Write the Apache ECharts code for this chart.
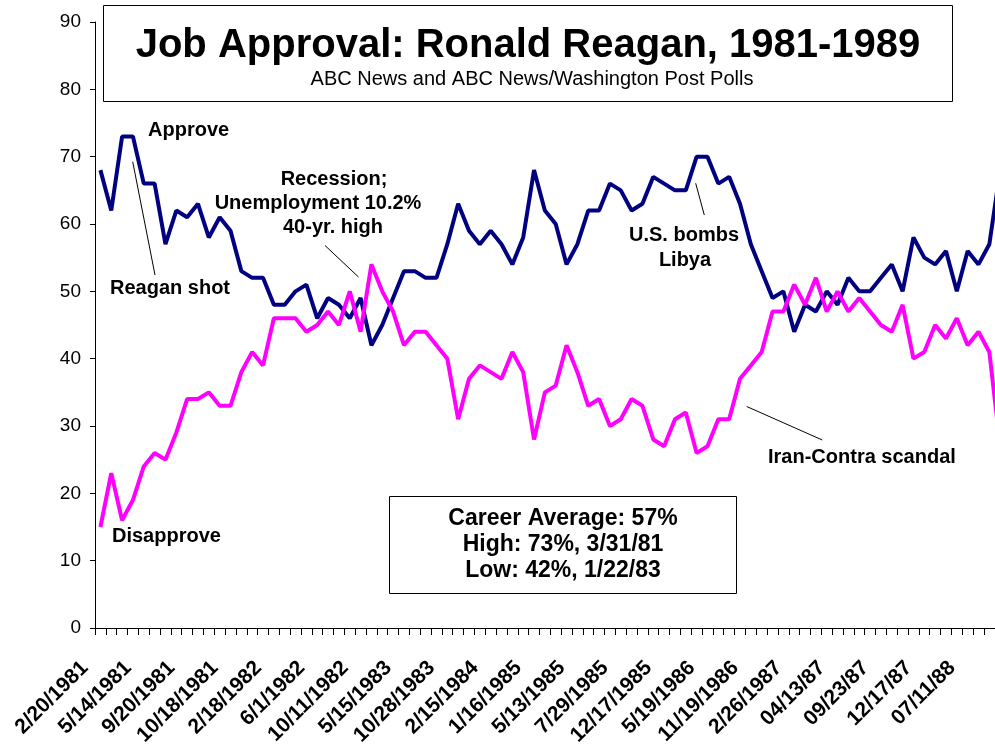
<!DOCTYPE html>
<html>
<head>
<meta charset="utf-8">
<script src="https://cdn.jsdelivr.net/npm/echarts@6/dist/echarts.min.js"></script>
<style>
html,body{margin:0;padding:0;background:#fff;}
#chart{width:995px;height:755px;}
</style>
</head>
<body>
<div id="chart"></div>
<script>
// Tick labels shown on the category axis (every 4th poll)
const tickLabels = ['2/20/1981','5/14/1981','9/20/1981','10/18/1981','2/18/1982','6/1/1982','10/11/1982','5/15/1983','10/28/1983','2/15/1984','1/16/1985','5/13/1985','7/29/1985','12/17/1985','5/19/1986','11/19/1986','2/26/1987','04/13/87','09/23/87','12/17/87','07/11/88'];

// Poll values (percent), one per poll, in chronological order
const approve = [68,62,73,73,66,66,57,62,61,63,58,61,59,53,52,52,48,48,50,51,46,
                 49,48,46,49,42,45,49,53,53,52,52,57,63,59,57,59,57,54,58,68,62,
                 60,54,57,62,62,66,65,62,63,67,66,65,65,70,70,66,67,63,57,53,49,
                 50,44,48,47,50,48,52,50,50,52,54,50,58,55,54,56,50,56,54,57,68];
const disapprove = [15,23,16,19,24,26,25,29,34,34,35,33,33,38,41,39,46,46,46,44,45,
                    47,45,50,44,54,50,47,42,44,44,42,40,31,37,39,38,37,41,38,28,35,
                    36,42,38,33,34,30,31,34,33,28,27,31,32,26,27,31,31,37,39,41,47,
                    47,51,48,52,47,50,47,49,47,45,44,48,40,41,45,43,46,42,44,41,27];

const categories = approve.map((_, i) => (i % 4 === 0 && tickLabels[i / 4]) ? tickLabels[i / 4] : '');

const FONT = '"Liberation Sans", Arial, Helvetica, sans-serif';

const chart = echarts.init(document.getElementById('chart'), null, {renderer: 'canvas'});

function txt(text, x, y, size, align, weight) {
  return {
    type: 'text', z: 100,
    style: {
      text: text, x: x, y: y, fill: '#000',
      font: (weight || 'bold') + ' ' + size + 'px ' + FONT,
      textAlign: align || 'left', textVerticalAlign: 'middle'
    }
  };
}
function seg(x1, y1, x2, y2) {
  return {type: 'line', z: 100, shape: {x1: x1, y1: y1, x2: x2, y2: y2}, style: {stroke: '#000', lineWidth: 1}};
}

chart.setOption({
  animation: false,
  backgroundColor: '#fff',
  grid: {left: 95, top: 22, width: 910.6, height: 606, containLabel: false, outerBoundsMode: 'none'},
  xAxis: {
    type: 'category',
    data: categories,
    boundaryGap: true,
    axisLine: {show: true, lineStyle: {color: '#000', width: 1}},
    axisTick: {show: true, interval: 0, length: 7, lineStyle: {color: '#000'}},
    axisLabel: {
      interval: 3, rotate: 45, margin: 21,
      color: '#000', fontFamily: FONT, fontWeight: 'bold', fontSize: 21,
      padding: [0, 22, 0, 0]
    },
    splitLine: {show: false}
  },
  yAxis: {
    type: 'value', min: 0, max: 90, interval: 10,
    axisLine: {show: true, lineStyle: {color: '#000', width: 1}},
    axisTick: {show: true, length: 5, lineStyle: {color: '#000'}},
    axisLabel: {color: '#000', fontFamily: FONT, fontSize: 19, margin: 14},
    splitLine: {show: false}
  },
  series: [
    {name: 'Approve', type: 'line', data: approve, symbol: 'none', clip: true,
     lineStyle: {color: '#000080', width: 4}, itemStyle: {color: '#000080'}},
    {name: 'Disapprove', type: 'line', data: disapprove, symbol: 'none', clip: true,
     lineStyle: {color: '#FF00FF', width: 4}, itemStyle: {color: '#FF00FF'}}
  ],
  graphic: [
    {type: 'rect', z: 90, shape: {x: 103.5, y: 5.5, width: 849, height: 96},
     style: {fill: '#fff', stroke: '#000', lineWidth: 1}},
    txt('Job Approval: Ronald Reagan, 1981-1989', 528, 46, 40, 'center'),
    txt('ABC News and ABC News/Washington Post Polls', 532, 79, 20, 'center', 'normal'),

    txt('Approve', 148, 130, 20),
    txt('Reagan shot', 110, 288, 20),
    seg(132.7, 161.7, 155, 275),

    txt('Recession;', 334, 179, 20, 'center'),
    txt('Unemployment 10.2%', 318, 203, 20, 'center'),
    txt('40-yr. high', 333, 227, 20, 'center'),
    seg(325, 245.5, 358.5, 277),

    txt('U.S. bombs', 684, 235, 20, 'center'),
    txt('Libya', 685, 260, 20, 'center'),
    seg(695.7, 183.3, 704.3, 215),

    txt('Iran-Contra scandal', 768, 457, 20),
    seg(746.7, 406.5, 822.3, 440),

    txt('Disapprove', 112, 536, 20),

    {type: 'rect', z: 90, shape: {x: 389.5, y: 496.5, width: 347, height: 97},
     style: {fill: '#fff', stroke: '#000', lineWidth: 1}},
    txt('Career Average: 57%', 563, 519, 23, 'center'),
    txt('High: 73%, 3/31/81', 563, 545, 23, 'center'),
    txt('Low: 42%, 1/22/83', 563, 571, 23, 'center')
  ]
});
</script>
</body>
</html>
